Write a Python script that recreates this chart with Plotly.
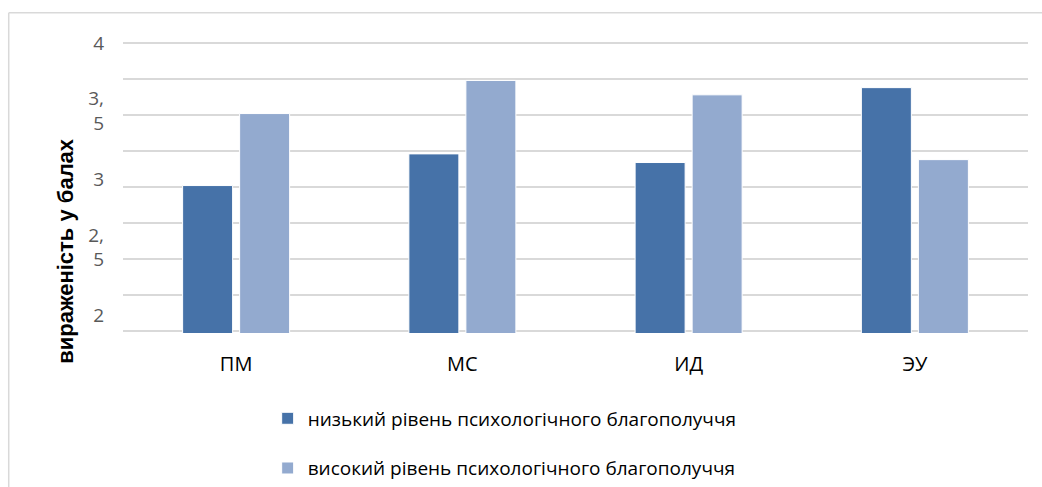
import plotly.graph_objects as go

# Categories and mean scores for the two groups
categories = ["ПМ", "МС", "ИД", "ЭУ"]
low_wellbeing = [3.01, 3.23, 3.17, 3.69]
high_wellbeing = [3.51, 3.74, 3.64, 3.19]
series_names = [
    "низький рівень психологічного благополуччя",
    "високий рівень психологічного благополуччя",
]
tick_values = [2, 2.5, 3, 3.5, 4]
tick_labels = ["2", "2,<br>5", "3", "3,<br>5", "4"]

W, H = 1042, 487
# plot area with a 2px cushion above and below so edge gridlines are kept
PAD = 2
L, R, T, B = 123.3, 13.5, 43.3 - PAD, 156.3 - PAD
PW, PH = W - L - R, H - T - B
UNIT_PX = (330.7 - 43.3) / 2.0
Y_PAD = PAD / UNIT_PX


def px_x(x):
    return (x - L) / PW


def px_y(y):
    return (H - B - y) / PH


DARK = "#4672A8"
LIGHT = "#93AACF"

fig = go.Figure()
fig.add_trace(go.Bar(
    x=categories, y=low_wellbeing, name=series_names[0], legendgroup="a",
    marker=dict(color=DARK, line=dict(color="white", width=1)),
))
fig.add_trace(go.Bar(
    x=categories, y=high_wellbeing, name=series_names[1], legendgroup="b",
    marker=dict(color=LIGHT, line=dict(color="white", width=1)),
))
# invisible carrier for the value labels axis
fig.add_trace(go.Scatter(x=categories, y=[None] * 4, yaxis="y2",
                         showlegend=False, hoverinfo="skip"))

fig.update_layout(
    width=W, height=H,
    margin=dict(l=L, r=R, t=T, b=B, pad=0, autoexpand=False),
    paper_bgcolor="white", plot_bgcolor="white",
    barmode="group", bargap=0.496, bargroupgap=0.123,
    font=dict(family="Open Sans, Noto Sans, sans-serif", color="#000000"),
    xaxis=dict(
        showgrid=False, showline=False, zeroline=False, ticks="",
        tickfont=dict(size=20, color="#000000"),
        ticklabelstandoff=17,
    ),
    yaxis=dict(
        range=[2 - Y_PAD, 4 + Y_PAD], tickvals=[2 + 0.25 * i for i in range(9)],
        showticklabels=False, showgrid=True, gridcolor="#d9d9d9",
        gridwidth=1.5, zeroline=False, showline=False, ticks="",
    ),
    yaxis2=dict(
        overlaying="y", side="left",
        range=[1.885 - Y_PAD, 4.0 + Y_PAD], tickvals=tick_values,
        ticktext=tick_labels,
        showgrid=False, zeroline=False, showline=False, ticks="",
        tickfont=dict(size=19, color="#595959"),
        ticklabelstandoff=18,
    ),
    legend=dict(
        orientation="v", x=px_x(268), y=px_y(399), xanchor="left",
        yanchor="top", tracegroupgap=22,
        font=dict(size=19, color="#000000"),
        bgcolor="rgba(0,0,0,0)", itemwidth=30,
    ),
    showlegend=True,
)

# vertical axis title
fig.add_annotation(
    text="<b>вираженість у балах</b>", textangle=-90, showarrow=False,
    xref="paper", yref="paper", x=px_x(65), y=px_y(251),
    xanchor="center", yanchor="middle",
    font=dict(size=22, color="#000000", family="Liberation Sans, Arial, sans-serif"),
)

# chart frame: top and left edges
fig.add_shape(type="line", xref="paper", yref="paper",
              x0=px_x(9), x1=px_x(W + 5), y0=px_y(13), y1=px_y(13),
              line=dict(color="#d9d9d9", width=1.5))
fig.add_shape(type="line", xref="paper", yref="paper",
              x0=px_x(9), x1=px_x(9), y0=px_y(13), y1=px_y(H + 5),
              line=dict(color="#d9d9d9", width=1.5))

fig.write_html("out.html")
